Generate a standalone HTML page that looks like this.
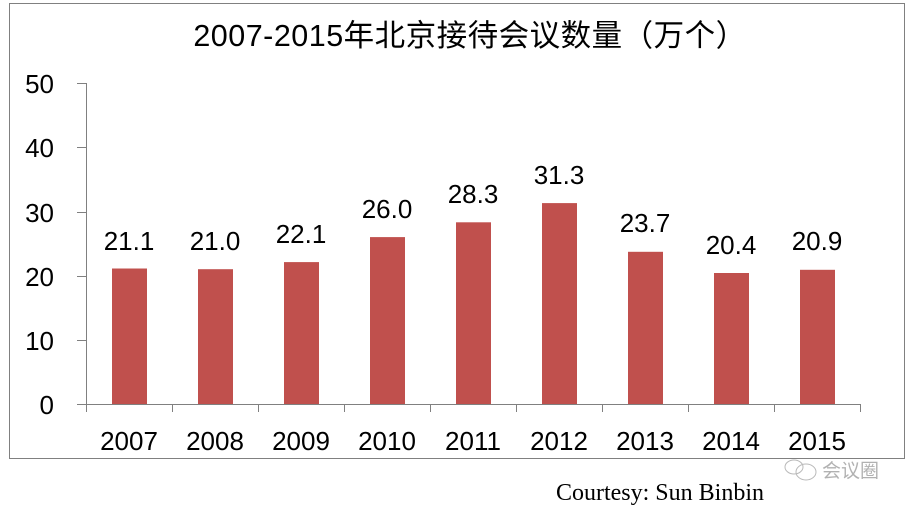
<!DOCTYPE html>
<html><head><meta charset="utf-8"><style>
body{margin:0;background:#fff;}
svg text{font-family:"Liberation Sans","Noto Sans CJK SC",sans-serif;fill:#000;}
</style></head><body>
<svg width="916" height="508" xmlns="http://www.w3.org/2000/svg">
<rect x="9.5" y="3.5" width="895" height="455" fill="#fff" stroke="#808080" stroke-width="1"/>
<text x="470" y="46" font-size="30.5" text-anchor="middle" letter-spacing="0.5">2007-2015年北京接待会议数量（万个）</text>
<g stroke="#808080" stroke-width="1">
<line x1="86.5" y1="83" x2="86.5" y2="412"/>
<line x1="77" y1="404.5" x2="861" y2="404.5"/>
<line x1="77" y1="83.5" x2="86" y2="83.5"/>
<line x1="77" y1="147.5" x2="86" y2="147.5"/>
<line x1="77" y1="212.5" x2="86" y2="212.5"/>
<line x1="77" y1="276.5" x2="86" y2="276.5"/>
<line x1="77" y1="340.5" x2="86" y2="340.5"/>
<line x1="172.5" y1="404" x2="172.5" y2="412"/>
<line x1="258.5" y1="404" x2="258.5" y2="412"/>
<line x1="344.5" y1="404" x2="344.5" y2="412"/>
<line x1="430.5" y1="404" x2="430.5" y2="412"/>
<line x1="516.5" y1="404" x2="516.5" y2="412"/>
<line x1="602.5" y1="404" x2="602.5" y2="412"/>
<line x1="688.5" y1="404" x2="688.5" y2="412"/>
<line x1="774.5" y1="404" x2="774.5" y2="412"/>
<line x1="860.5" y1="404" x2="860.5" y2="412"/>
</g>
<g font-size="26" text-anchor="end">
<text x="54" y="93">50</text><text x="54" y="157">40</text><text x="54" y="222">30</text>
<text x="54" y="286">20</text><text x="54" y="350">10</text><text x="54" y="414">0</text>
</g>
<g fill="#c0504d">
<rect x="112" y="268.5" width="35" height="135.5"/>
<rect x="198" y="269.2" width="35" height="134.8"/>
<rect x="284" y="262.1" width="35" height="141.9"/>
<rect x="370" y="237.1" width="35" height="166.9"/>
<rect x="456" y="222.3" width="35" height="181.7"/>
<rect x="542" y="203.1" width="35" height="200.9"/>
<rect x="628" y="251.8" width="35" height="152.2"/>
<rect x="714" y="273.0" width="35" height="131.0"/>
<rect x="800" y="269.8" width="35" height="134.2"/>
</g>
<g font-size="26" text-anchor="middle">
<text x="129" y="250">21.1</text><text x="215" y="250">21.0</text><text x="301" y="243">22.1</text>
<text x="387" y="218">26.0</text><text x="473" y="203">28.3</text><text x="559" y="184">31.3</text>
<text x="645" y="232">23.7</text><text x="731" y="254">20.4</text><text x="817" y="250">20.9</text>
<text x="129" y="450">2007</text><text x="215" y="450">2008</text><text x="301" y="450">2009</text>
<text x="387" y="450">2010</text><text x="473" y="450">2011</text><text x="559" y="450">2012</text>
<text x="645" y="450">2013</text><text x="731" y="450">2014</text><text x="817" y="450">2015</text>
</g>
<text x="764" y="500" font-size="24" text-anchor="end" style="font-family:'Liberation Serif',serif">Courtesy: Sun Binbin</text>
<g opacity="0.45">
<ellipse cx="794" cy="467" rx="9" ry="7" fill="none" stroke="#666"/>
<ellipse cx="806" cy="472" rx="10" ry="8" fill="none" stroke="#666"/>
<text x="822" y="477" font-size="19" style="fill:#555">会议圈</text>
</g>
</svg>
</body></html>
